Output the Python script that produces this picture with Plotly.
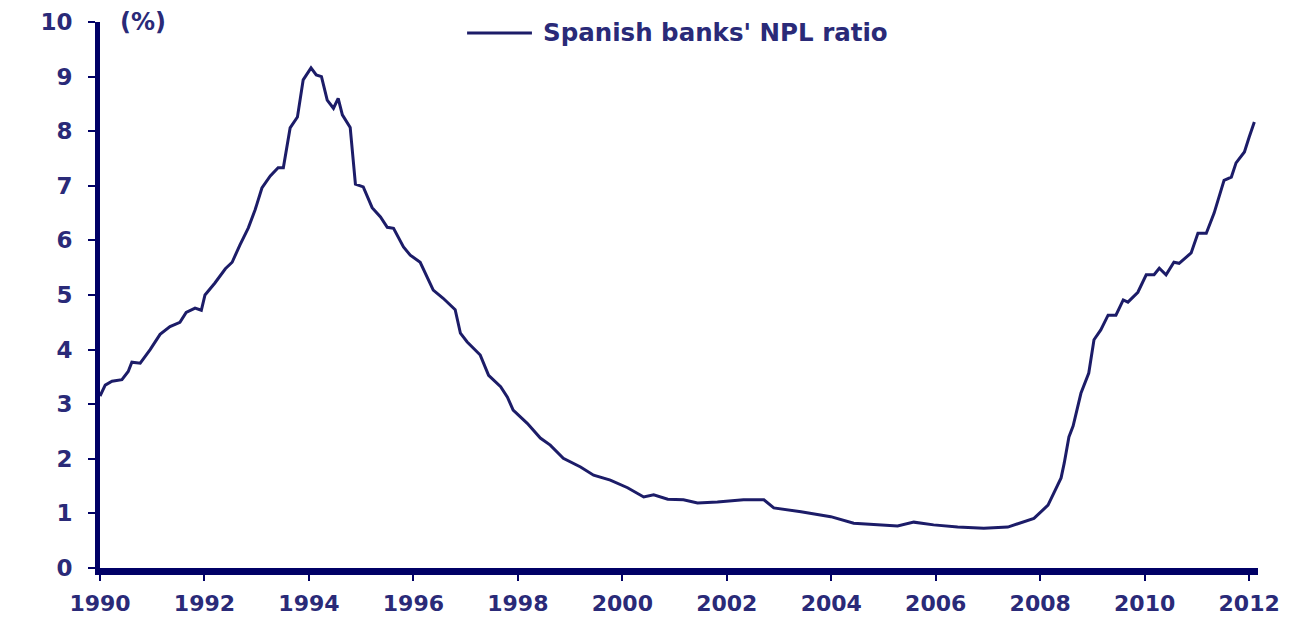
import plotly.graph_objects as go

# Spanish banks' non-performing loan ratio (%), sampled along the series
years = [
    1990.00, 1990.10, 1990.23, 1990.42, 1990.54, 1990.61, 1990.77, 1990.96,
    1991.15, 1991.34, 1991.53, 1991.65, 1991.82, 1991.94, 1992.01, 1992.20,
    1992.40, 1992.53, 1992.68, 1992.84, 1992.97, 1993.10, 1993.26, 1993.41,
    1993.51, 1993.64, 1993.78, 1993.83, 1993.89, 1994.04, 1994.14, 1994.24,
    1994.35, 1994.47, 1994.56, 1994.64, 1994.79, 1994.89, 1995.04, 1995.21,
    1995.37, 1995.50, 1995.62, 1995.81, 1995.94, 1996.13, 1996.38, 1996.57,
    1996.80, 1996.90, 1997.03, 1997.28, 1997.44, 1997.67, 1997.80, 1997.91,
    1998.18, 1998.43, 1998.62, 1998.87, 1999.20, 1999.45, 1999.77, 2000.10,
    2000.41, 2000.60, 2000.87, 2001.17, 2001.44, 2001.82, 2002.32, 2002.71,
    2002.90, 2003.42, 2003.99, 2004.43, 2004.89, 2005.27, 2005.58, 2005.96,
    2006.42, 2006.92, 2007.38, 2007.88, 2008.15, 2008.40, 2008.46, 2008.55,
    2008.63, 2008.78, 2008.93, 2009.03, 2009.16, 2009.30, 2009.45, 2009.59,
    2009.68, 2009.87, 2010.03, 2010.18, 2010.28, 2010.41, 2010.56, 2010.66,
    2010.89, 2011.02, 2011.18, 2011.33, 2011.52, 2011.66, 2011.75, 2011.91,
    2012.00, 2012.10,
]
npl_ratio = [
    3.15, 3.35, 3.42, 3.45, 3.60, 3.77, 3.75, 4.00,
    4.28, 4.42, 4.50, 4.68, 4.76, 4.72, 5.00, 5.22,
    5.48, 5.60, 5.92, 6.23, 6.56, 6.96, 7.18, 7.33,
    7.33, 8.06, 8.26, 8.57, 8.94, 9.16, 9.03, 9.00,
    8.57, 8.42, 8.60, 8.30, 8.07, 7.03, 6.98, 6.60,
    6.43, 6.24, 6.22, 5.88, 5.73, 5.60, 5.09, 4.94,
    4.73, 4.30, 4.14, 3.90, 3.53, 3.32, 3.13, 2.89,
    2.65, 2.38, 2.25, 2.01, 1.85, 1.70, 1.61, 1.47,
    1.30, 1.34, 1.26, 1.25, 1.19, 1.21, 1.25, 1.25,
    1.10, 1.03, 0.94, 0.82, 0.79, 0.77, 0.84, 0.79,
    0.75, 0.73, 0.75, 0.91, 1.15, 1.65, 1.92, 2.40,
    2.60, 3.20, 3.57, 4.18, 4.36, 4.63, 4.63, 4.91,
    4.87, 5.05, 5.37, 5.37, 5.49, 5.37, 5.60, 5.58,
    5.77, 6.13, 6.13, 6.50, 7.10, 7.16, 7.42, 7.62,
    7.89, 8.17,
]

x_ticks = [1990, 1992, 1994, 1996, 1998, 2000, 2002, 2004, 2006, 2008, 2010, 2012]
y_ticks = [0, 1, 2, 3, 4, 5, 6, 7, 8, 9, 10]
series_name = "Spanish banks' NPL ratio"
unit_label = "(%)"

NAVY = "#000066"
LINE = "#1c1c68"
TEXT = "#2a2a78"
FONT = "DejaVu Sans"


def bold(s):
    return f"<b>{s}</b>"


fig = go.Figure()
fig.add_trace(go.Scatter(
    x=years, y=npl_ratio, mode="lines", name=series_name,
    line=dict(color=LINE, width=3), showlegend=False,
))

fig.update_layout(
    width=1295, height=620,
    margin=dict(l=100, r=37, t=22, b=52),
    paper_bgcolor="white", plot_bgcolor="white",
    font=dict(family=FONT, size=23, color=TEXT),
    xaxis=dict(
        range=[1990, 2012.17], tickvals=x_ticks,
        ticktext=[bold(v) for v in x_ticks],
        showgrid=False, zeroline=False, automargin=False,
        showline=True, linecolor=NAVY, linewidth=7,
        ticks="outside", ticklen=6, tickwidth=2, tickcolor=NAVY,
        ticklabelstandoff=4,
        tickfont=dict(family=FONT, size=22, color=TEXT),
    ),
    yaxis=dict(
        range=[0, 10], tickvals=y_ticks,
        ticktext=[bold(v) for v in y_ticks],
        showgrid=False, zeroline=False, automargin=False,
        showline=True, linecolor=NAVY, linewidth=5,
        ticks="outside", ticklen=7, tickwidth=2, tickcolor=NAVY,
        ticklabelstandoff=11,
        tickfont=dict(family=FONT, size=23, color=TEXT),
    ),
)

# unit label next to the top of the value axis
fig.add_annotation(
    x=0.0155, y=1.0, xref="paper", yref="paper", xanchor="left", yanchor="middle",
    text=bold(unit_label), showarrow=False, font=dict(family=FONT, size=24, color=TEXT),
)

# series key: line sample followed by the series name
fig.add_shape(
    type="line", xref="paper", yref="paper",
    x0=0.317, x1=0.373, y0=0.98, y1=0.98,
    line=dict(color=LINE, width=3),
)
fig.add_annotation(
    x=0.3805, y=0.98, xref="paper", yref="paper", xanchor="left", yanchor="middle",
    text=bold(series_name), showarrow=False, font=dict(family=FONT, size=24.5, color=TEXT),
)

fig.write_html("out.html")
